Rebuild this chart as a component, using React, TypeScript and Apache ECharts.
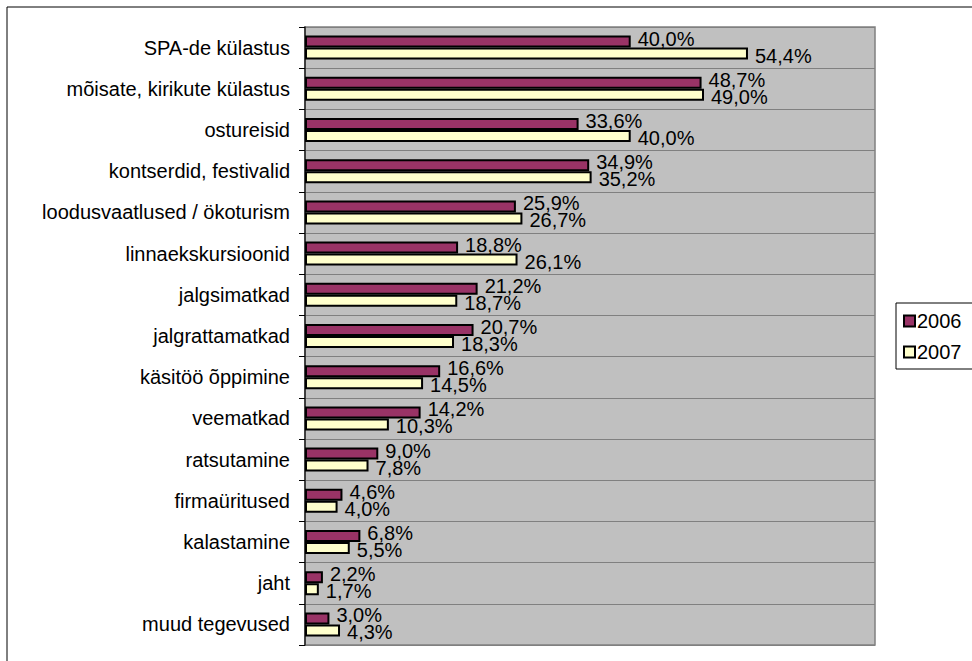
import React, { useEffect, useRef } from "react";
import * as echarts from "echarts";

const categories = [
  "SPA-de külastus",
  "mõisate, kirikute külastus",
  "ostureisid",
  "kontserdid, festivalid",
  "loodusvaatlused / ökoturism",
  "linnaekskursioonid",
  "jalgsimatkad",
  "jalgrattamatkad",
  "käsitöö õppimine",
  "veematkad",
  "ratsutamine",
  "firmaüritused",
  "kalastamine",
  "jaht",
  "muud tegevused",
];

const values2006 = [40.0, 48.7, 33.6, 34.9, 25.9, 18.8, 21.2, 20.7, 16.6, 14.2, 9.0, 4.6, 6.8, 2.2, 3.0];
const values2007 = [54.4, 49.0, 40.0, 35.2, 26.7, 26.1, 18.7, 18.3, 14.5, 10.3, 7.8, 4.0, 5.5, 1.7, 4.3];

const seriesNames = ["2006", "2007"];

const FONT = "Liberation Sans, Arial, sans-serif";

const fmt = (v: number) => v.toFixed(1).replace(".", ",") + "%";

export default function App() {
  const ref = useRef<HTMLDivElement>(null);

  useEffect(() => {
    if (!ref.current) return;
    const chart = echarts.init(ref.current, undefined, { renderer: "svg" });
    chart.setOption({
      animation: false,
      backgroundColor: "#ffffff",
      textStyle: { fontFamily: FONT },
      graphic: [
        {
          type: "rect",
          shape: { x: 7, y: 7, width: 1000, height: 700 },
          style: { fill: "none", stroke: "#000", lineWidth: 1 },
          silent: true,
        },
        {
          type: "rect",
          shape: { x: 896, y: 303, width: 100, height: 66 },
          style: { fill: "#fff", stroke: "#000", lineWidth: 1 },
          silent: true,
        },
      ],
      legend: {
        data: seriesNames,
        orient: "vertical",
        left: 898,
        top: 306,
        itemWidth: 11,
        itemHeight: 11,
        itemGap: 11,
        icon: "rect",
        textStyle: { fontSize: 20, color: "#000", fontFamily: FONT, padding: [0, 0, 0, -3] },
        z: 10,
      },
      grid: {
        left: 305,
        top: 27,
        right: 97,
        bottom: 16,
        show: true,
        backgroundColor: "#C0C0C0",
        borderColor: "#808080",
        borderWidth: 1.5,
        containLabel: false,
      },
      xAxis: {
        type: "value",
        min: 0,
        max: 70,
        axisLabel: { show: false },
        splitLine: { show: false },
        axisLine: { show: false },
        axisTick: { show: false },
      },
      yAxis: {
        type: "category",
        data: categories,
        inverse: true,
        axisLine: { show: true, lineStyle: { color: "#222", width: 1.5 } },
        axisTick: { show: true, length: 6, lineStyle: { color: "#000" } },
        axisLabel: { fontSize: 20, color: "#000", margin: 15, fontFamily: FONT },
        splitLine: { show: true, lineStyle: { color: "#808080", width: 1 } },
      },
      series: [
        {
          name: seriesNames[0],
          type: "bar",
          data: values2006,
          barWidth: 12,
          barGap: "0%",
          itemStyle: { color: "#993366", borderColor: "#000", borderWidth: 2 },
          label: {
            show: true,
            position: "right",
            distance: 7,
            offset: [0, -3],
            formatter: (p: any) => fmt(p.value),
            fontSize: 20,
            lineHeight: 16,
            color: "#000",
            fontFamily: FONT,
          },
        },
        {
          name: seriesNames[1],
          type: "bar",
          data: values2007,
          barWidth: 12,
          barGap: "0%",
          itemStyle: { color: "#FFFFCC", borderColor: "#000", borderWidth: 2 },
          label: {
            show: true,
            position: "right",
            distance: 7,
            offset: [0, 2],
            formatter: (p: any) => fmt(p.value),
            fontSize: 20,
            lineHeight: 16,
            color: "#000",
            fontFamily: FONT,
          },
        },
      ],
    });
    return () => chart.dispose();
  }, []);

  return (
    <div
      ref={ref}
      style={{ position: "absolute", left: 0, top: 0, width: 972, height: 661 }}
    />
  );
}
